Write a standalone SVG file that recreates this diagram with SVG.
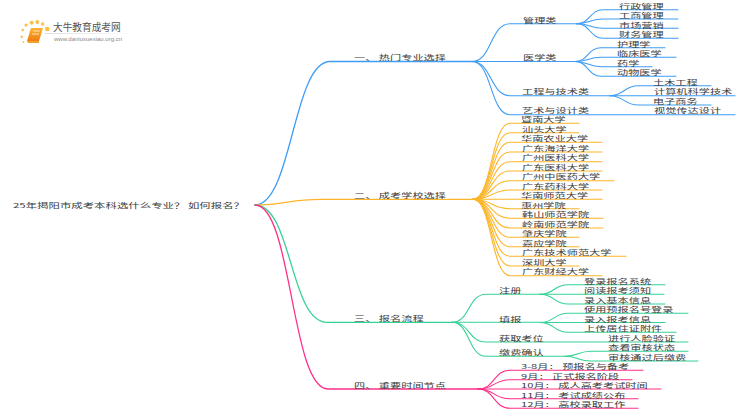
<svg xmlns="http://www.w3.org/2000/svg" width="750" height="410" viewBox="0 0 750 410">
<style>
text{font-family:"Noto Sans CJK SC","Liberation Sans",sans-serif;font-size:11.2px;fill:#3c3c3c}
path{fill:none}
.b{stroke:#3f9df5}.o{stroke:#fdb52a}.g{stroke:#35d295}.p{stroke:#ff2f88}
.m{stroke-width:1.3}.s{stroke-width:1.1}
</style>
<defs>
<linearGradient id="fade"><stop offset="0" stop-color="#ddd"/><stop offset="1" stop-color="#fff"/></linearGradient>
<linearGradient id="book" x1="0" y1="0" x2="0" y2="1"><stop offset="0" stop-color="#fbb335"/><stop offset="1" stop-color="#ee7d11"/></linearGradient>
</defs>
<rect width="750" height="410" fill="#fff"/>
<g id="logo">
<g fill="#fbc04a"><circle cx="47.300" cy="29" r="2.300"/><circle cx="42.700" cy="24" r="1.700"/><circle cx="37.300" cy="22" r="2"/><circle cx="31.700" cy="22.700" r="2"/><circle cx="26" cy="25" r="1.600"/><circle cx="22.700" cy="30" r="1.300"/><circle cx="21.700" cy="36.700" r="1.200"/><circle cx="23.300" cy="42" r="1"/></g>
<path d="M31 28H43L39 41H27Z" style="fill:url(#book)"/>
<path d="M27 41H39V43H28Z" style="fill:#f4a02d"/>
<path d="M33 31H40M32 34H39" style="stroke:#ffe2ad;stroke-width:1"/>
<rect x="45" y="33" width="88" height="1" fill="url(#fade)"/>
<text transform="translate(53 31) scale(.88 .9)" style="font-size:11px;fill:#555">大牛教育成考网</text>
<text x="54" y="41" style="font-size:6px;fill:#888;font-family:'Liberation Sans',sans-serif">www.daniuxuexiao.org.cn</text>
</g>
<g id="connectors" stroke-linecap="round">
<path class="b m" d="M255 205C292 205 293 61.500 330 61.500H473"/>
<path class="o m" d="M255 205C285 205 290 199.300 320 199.300H473"/>
<path class="g m" d="M255 205C292 205 290 322.300 327 322.300H452"/>
<path class="p m" d="M255 205C292 205 291 389 328 389H478"/>
<g class="b s">
<path d="M472 61.500C492 61.500 490 23.700 510 23.700H577"/>
<path d="M472 61.500H577"/>
<path d="M472 61.500C492 61.500 490 95.700 510 95.700H610"/>
<path d="M472 61.500C492 61.500 490 114.700 510 114.700H735"/>
<path d="M577 23.700C590 23.700 590 9.700 603 9.700H678"/>
<path d="M577 23.700C590 23.700 590 19 603 19H678"/>
<path d="M577 23.700C590 23.700 590 28.300 603 28.300H678"/>
<path d="M577 23.700C590 23.700 590 38.300 603 38.300H678"/>
<path d="M575 61.500C588 61.500 588 47.700 601 47.700H665"/>
<path d="M575 61.500C588 61.500 588 57.300 601 57.300H676"/>
<path d="M575 61.500C588 61.500 588 66.700 601 66.700H652"/>
<path d="M575 61.500C588 61.500 588 76.300 601 76.300H676"/>
<path d="M610 95.700C624 95.700 624 85.700 638 85.700H711"/>
<path d="M610 95.700H735"/>
<path d="M610 95.700C624 95.700 624 105 638 105H711"/>
</g>
<g class="o s">
<path d="M473 199.300C492 199.300 491 123.300 510 123.300H579"/>
<path d="M473 199.300C492 199.300 491 132.700 510 132.700H579"/>
<path d="M473 199.300C492 199.300 491 142.300 510 142.300H602"/>
<path d="M473 199.300C492 199.300 491 152 510 152H602"/>
<path d="M473 199.300C492 199.300 491 161.700 510 161.700H602"/>
<path d="M473 199.300C492 199.300 491 171 510 171H602"/>
<path d="M473 199.300C492 199.300 491 180.700 510 180.700H614"/>
<path d="M473 199.300C492 199.300 491 190 510 190H602"/>
<path d="M473 199.300H602"/>
<path d="M473 199.300C492 199.300 491 208.700 510 208.700H579"/>
<path d="M473 199.300C492 199.300 491 218.300 510 218.300H603"/>
<path d="M473 199.300C492 199.300 491 228 510 228H603"/>
<path d="M473 199.300C492 199.300 491 237.300 510 237.300H579"/>
<path d="M473 199.300C492 199.300 491 246.700 510 246.700H579"/>
<path d="M473 199.300C492 199.300 491 256.300 510 256.300H626"/>
<path d="M473 199.300C492 199.300 491 266 510 266H579"/>
<path d="M473 199.300C492 199.300 491 275.700 510 275.700H602"/>
</g>
<g class="g s">
<path d="M452 322.300C470 322.300 468 294.300 486 294.300H540"/>
<path d="M452 322.300H540"/>
<path d="M452 322.300C470 322.300 468 342 486 342H688"/>
<path d="M452 322.300C470 322.300 468 356.300 486 356.300H565"/>
<path d="M540 294.300C555 294.300 553 284.700 568 284.700H665"/>
<path d="M540 294.300H664"/>
<path d="M540 294.300C555 294.300 553 304 568 304H665"/>
<path d="M540 322.500C555 322.500 553 313.300 568 313.300H688"/>
<path d="M540 322.500H665"/>
<path d="M540 322.500C555 322.500 553 332.300 568 332.300H676"/>
<path d="M565 356.300C578 356.300 578 351.300 591 351.300H688"/>
<path d="M565 356.300C578 356.300 578 361 591 361H698"/>
</g>
<g class="p s">
<path d="M478 389C495 389 493 370.300 510 370.300H643"/>
<path d="M478 389C495 389 493 379.700 510 379.700H632"/>
<path d="M478 389H661"/>
<path d="M478 389C495 389 493 398.700 510 398.700H638"/>
<path d="M478 389C495 389 493 408.300 510 408.300H638"/>
</g>
</g>
<g id="n-root"><text transform="translate(13 208) scale(1.02 .6)">25年揭阳市成考本科选什么专业？ 如何报名？</text></g>
<g id="n-1"><text transform="translate(354 60) scale(1 .6)">一、 热门专业选择</text></g>
<g id="n-2"><text transform="translate(354 198) scale(1 .6)">二、 成考学校选择</text></g>
<g id="n-3"><text transform="translate(354 321) scale(1 .6)">三、 报名流程</text></g>
<g id="n-4"><text transform="translate(354 387.500) scale(1 .6)">四、 重要时间节点</text></g>
<g id="n-major">
<text transform="translate(523 22.500) scale(1 .6)">管理类</text>
<text transform="translate(619 8.500) scale(1 .6)">行政管理</text>
<text transform="translate(619 18) scale(1 .6)">工商管理</text>
<text transform="translate(619 27.500) scale(1 .6)">市场营销</text>
<text transform="translate(619 37) scale(1 .6)">财务管理</text>
<text transform="translate(523 60) scale(1 .6)">医学类</text>
<text transform="translate(617 46.500) scale(1 .6)">护理学</text>
<text transform="translate(617 56) scale(1 .6)">临床医学</text>
<text transform="translate(617 65.500) scale(1 .6)">药学</text>
<text transform="translate(617 75) scale(1 .6)">动物医学</text>
<text transform="translate(522 94) scale(1 .6)">工程与技术类</text>
<text transform="translate(653 84.500) scale(1 .6)">土木工程</text>
<text transform="translate(654 94) scale(1 .6)">计算机科学技术</text>
<text transform="translate(653 104) scale(1 .6)">电子商务</text>
<text transform="translate(522 113) scale(1 .6)">艺术与设计类</text>
<text transform="translate(654 113) scale(1 .6)">视觉传达设计</text>
</g>
<g id="n-schools">
<text transform="translate(521 122) scale(1 .6)">暨南大学</text>
<text transform="translate(522 131.500) scale(1 .6)">汕头大学</text>
<text transform="translate(521 141) scale(1 .6)">华南农业大学</text>
<text transform="translate(522 150.500) scale(1 .6)">广东海洋大学</text>
<text transform="translate(522 160) scale(1 .6)">广州医科大学</text>
<text transform="translate(522 169.500) scale(1 .6)">广东医科大学</text>
<text transform="translate(522 179) scale(1 .6)">广州中医药大学</text>
<text transform="translate(522 188.500) scale(1 .6)">广东药科大学</text>
<text transform="translate(521 198) scale(1 .6)">华南师范大学</text>
<text transform="translate(521 207.500) scale(1 .6)">惠州学院</text>
<text transform="translate(522 217) scale(1 .6)">韩山师范学院</text>
<text transform="translate(522 226.500) scale(1 .6)">岭南师范学院</text>
<text transform="translate(522 236) scale(1 .6)">肇庆学院</text>
<text transform="translate(522 245.500) scale(1 .6)">嘉应学院</text>
<text transform="translate(522 255) scale(1 .6)">广东技术师范大学</text>
<text transform="translate(522 264.500) scale(1 .6)">深圳大学</text>
<text transform="translate(522 274) scale(1 .6)">广东财经大学</text>
</g>
<g id="n-process">
<text transform="translate(499 293) scale(1 .6)">注册</text>
<text transform="translate(584 283.500) scale(1 .6)">登录报名系统</text>
<text transform="translate(584 293) scale(1 .6)">阅读报考须知</text>
<text transform="translate(584 302.500) scale(1 .6)">录入基本信息</text>
<text transform="translate(499 321.500) scale(1 .6)">填报</text>
<text transform="translate(584 312) scale(1 .6)">使用预报名号登录</text>
<text transform="translate(584 321.500) scale(1 .6)">录入报考信息</text>
<text transform="translate(584 331) scale(1 .6)">上传居住证附件</text>
<text transform="translate(499 340.500) scale(1 .6)">获取考位</text>
<text transform="translate(608 340.500) scale(1 .6)">进行人脸验证</text>
<text transform="translate(499 355) scale(1 .6)">缴费确认</text>
<text transform="translate(608 350) scale(1 .6)">查看审核状态</text>
<text transform="translate(608 359.500) scale(1 .6)">审核通过后缴费</text>
</g>
<g id="n-dates">
<text transform="translate(521 369) scale(1 .6)">3-8月： 预报名与备考</text>
<text transform="translate(521 378.500) scale(1 .6)">9月： 正式报名阶段</text>
<text transform="translate(521 388) scale(1 .6)">10月： 成人高考考试时间</text>
<text transform="translate(521 397.500) scale(1 .6)">11月： 考试成绩公布</text>
<text transform="translate(521 407) scale(1 .6)">12月： 高校录取工作</text>
</g>
</svg>
